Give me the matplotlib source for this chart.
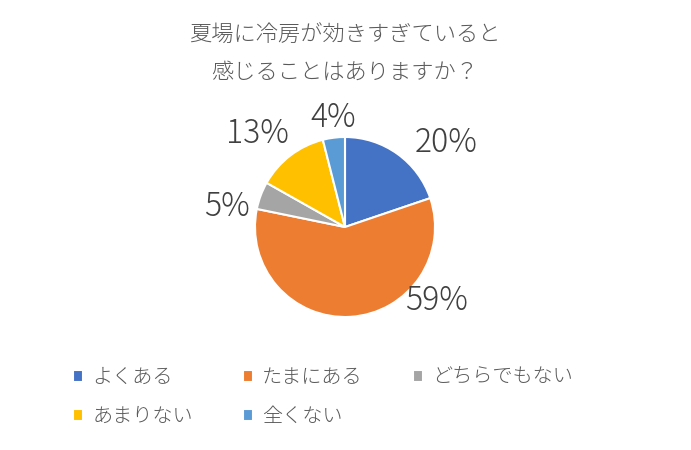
import matplotlib.pyplot as plt

plt.rcParams['font.family'] = ['Noto Sans CJK JP', 'DejaVu Sans']

# 回答カテゴリと割合(%)
labels = ["よくある", "たまにある", "どちらでもない", "あまりない", "全くない"]
values = [20, 59, 5, 13, 4]
colors = ["#4472C4", "#ED7D31", "#A5A5A5", "#FFC000", "#5B9BD5"]

# ラベル位置 (半径=1 の単位)
label_pos = [(1.12, 0.94), (1.02, -0.82), (-1.31, 0.22), (-0.97, 1.04), (-0.13, 1.21)]

fig = plt.figure(figsize=(6.91, 4.5), dpi=100)
ax = fig.add_axes([(345 - 180) / 691, (223 - 180) / 450, 360 / 691, 360 / 450])

wedges, _ = ax.pie(values, colors=colors, startangle=90, counterclock=False,
                   wedgeprops=dict(edgecolor="white", linewidth=1.5))
ax.set_xlim(-2, 2)
ax.set_ylim(-2, 2)
ax.set_aspect("equal")
ax.axis("off")

for v, (x, y) in zip(values, label_pos):
    ax.text(x, y, f"{v}%", ha="center", va="center", fontsize=23, color="#404040",
            fontweight="light")

fig.text(345 / 691, 1 - 36 / 450, "夏場に冷房が効きすぎていると", ha="center", va="center",
         fontsize=16, color="#595959", fontweight="light")
fig.text(345 / 691, 1 - 73 / 450, "感じることはありますか？", ha="center", va="center",
         fontsize=16, color="#595959", fontweight="light")

# 凡例は横方向に並べる (ncol=3 は列優先で埋まるので順序を入れ替え)
order = [0, 3, 1, 4, 2]
fig.legend([wedges[i] for i in order], [labels[i] for i in order],
           loc="upper left", bbox_to_anchor=(73 / 691, 1 - 367 / 450),
           ncol=3, frameon=False, prop=dict(size=14.5, weight="light"), labelcolor="#595959",
           handlelength=0.5, handleheight=0.5, handletextpad=0.45,
           columnspacing=2.5, labelspacing=0.9, borderpad=0, borderaxespad=0)

plt.savefig("out.png", dpi=100)
